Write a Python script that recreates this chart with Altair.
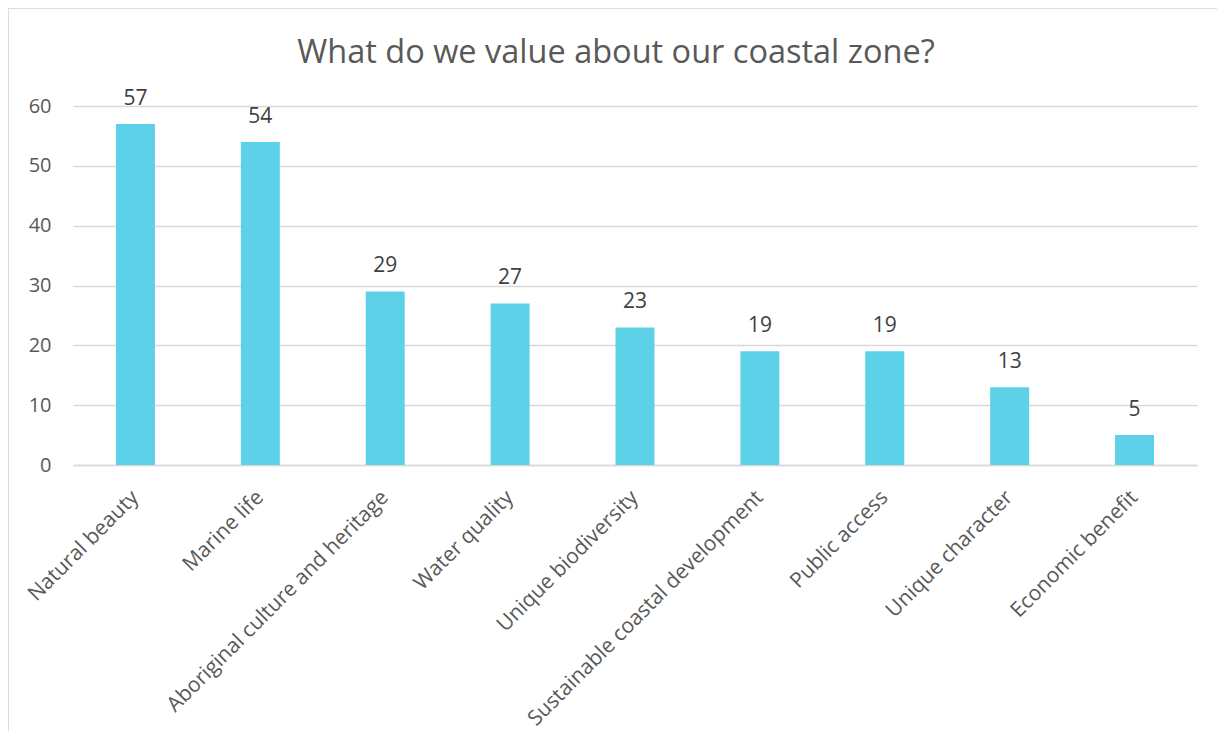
import altair as alt
import pandas as pd

categories = ["Natural beauty", "Marine life", "Aboriginal culture and heritage",
              "Water quality", "Unique biodiversity", "Sustainable coastal development",
              "Public access", "Unique character", "Economic benefit"]
values = [57, 54, 29, 27, 23, 19, 19, 13, 5]

df = pd.DataFrame({"category": categories, "value": values})

W, H = 1124, 359
FONT = "Open Sans"
TXT = "#595959"
BORDER = "#d9d9d9"

x = alt.X("category:N", sort=categories, title=None,
          scale=alt.Scale(paddingInner=0.688, paddingOuter=0.344),
          axis=alt.Axis(labelAngle=-45, labelAlign="right", labelBaseline="middle",
                        labelFontSize=21, labelColor=TXT, labelFont=FONT,
                        labelPadding=29, ticks=False, domainColor="#d9d9d9",
                        domainWidth=1.5, labelLimit=500))
y = alt.Y("value:Q", title=None,
          scale=alt.Scale(domain=[0, 60]),
          axis=alt.Axis(values=[0, 10, 20, 30, 40, 50, 60], labelFontSize=20,
                        labelColor=TXT, labelFont=FONT, ticks=False, domain=False,
                        gridColor="#d9d9d9", gridWidth=1.5, labelPadding=22))

bars = alt.Chart(df).mark_bar(color="#5DD1E8").encode(x=x, y=y)
labels = alt.Chart(df).mark_text(dy=-19, baseline="alphabetic", fontSize=21,
                                 font=FONT, color="#404040").encode(
    x=alt.X("category:N", sort=categories), y="value:Q", text="value:Q")
left_edge = alt.Chart(df).mark_rule(color=BORDER, strokeWidth=2.5).encode(
    x=alt.value(-66), y=alt.value(-99), y2=alt.value(700))
top_edge = alt.Chart(df).mark_rule(color=BORDER, strokeWidth=2.5).encode(
    x=alt.value(-66), x2=alt.value(1200), y=alt.value(-99))

chart = alt.layer(left_edge, top_edge, bars, labels).properties(
    width=W, height=H,
    title=alt.TitleParams("What do we value about our coastal zone?", fontSize=32.5,
                          font=FONT, fontWeight="normal", color=TXT,
                          anchor="middle", frame="group", baseline="alphabetic",
                          offset=-90, dx=-19),
    autosize=alt.AutoSizeParams(type="none"),
    padding={"left": 65, "top": 98, "right": 20, "bottom": 266},
).configure_view(stroke=None)

chart.save("out.html", embed_options={"renderer": "svg", "actions": False})
